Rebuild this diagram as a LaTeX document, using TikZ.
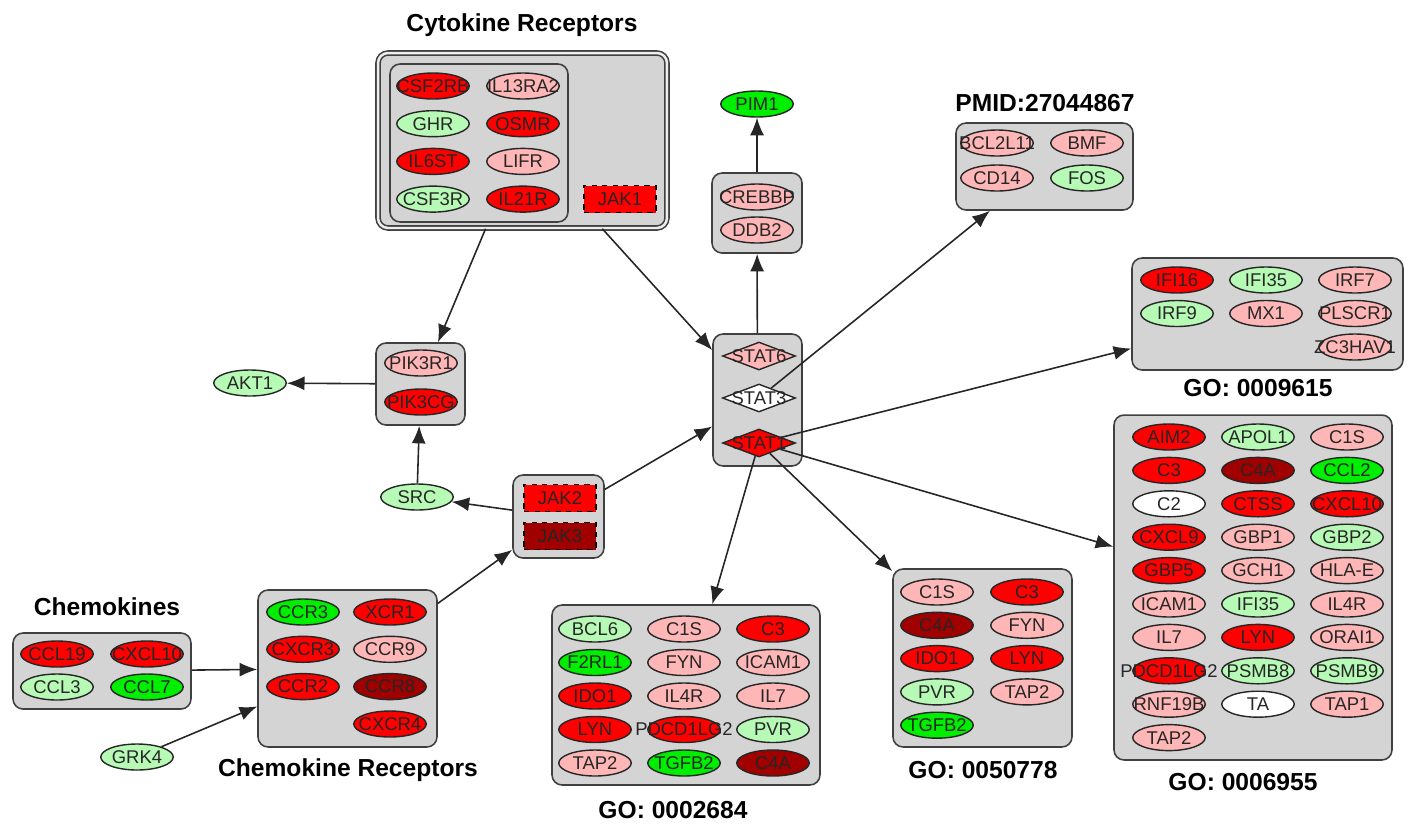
\documentclass[tikz,border=0pt]{standalone}
\usepackage{fontspec}
\setmainfont{Liberation Sans}
\usetikzlibrary{shapes.geometric,arrows.meta}
\definecolor{gred}{RGB}{255,0,0}
\definecolor{gpink}{RGB}{255,182,182}
\definecolor{gdark}{RGB}{160,0,0}
\definecolor{glgreen}{RGB}{182,250,182}
\definecolor{ggreen}{RGB}{0,238,0}
\definecolor{gbox}{RGB}{212,212,212}
\tikzset{
  grp/.style={draw=black!75,fill=gbox,rounded corners=0.2cm,line width=0.9pt,inner sep=0pt},
  gene/.style={ellipse,draw=black!85,line width=0.8pt,minimum width=1.45cm,minimum height=0.52cm,
    inner xsep=-14pt,inner ysep=0pt,text=black!85,font=\fontsize{10.5}{12}\selectfont},
  kin/.style={rectangle,draw=black,dashed,line width=0.8pt,minimum width=1.44cm,minimum height=0.54cm,
    inner sep=0pt,text=black!85,font=\fontsize{10.5}{12}\selectfont},
  stat/.style={diamond,aspect=2.6,draw=black!85,line width=0.8pt,minimum width=1.46cm,minimum height=0.56cm,
    inner xsep=-14pt,inner ysep=0pt,text=black!85,font=\fontsize{10.5}{12}\selectfont},
  ttl/.style={font=\bfseries\fontsize{14}{16}\selectfont},
  link/.style={-{Latex[length=10pt,width=8pt]},line width=0.9pt,draw=black!85}
}
\begin{document}
\begin{tikzpicture}[x=0.02cm,y=-0.02cm]
\useasboundingbox (0,0) rectangle (1418,836);
% cytokine receptors
\node[ttl] (cyttl) at (522,25) {Cytokine Receptors};
\node[grp,double=gbox!40!white,double distance=1.4pt,minimum width=5.78cm,minimum height=3.5cm] (cytbox) at (522.5,140.5) {};
\node[grp,minimum width=3.56cm,minimum height=3.16cm] (cytin) at (479,143) {};
\foreach \g/\c [count=\i from 0] in {CSF2RB/gred,IL13RA2/gpink,GHR/glgreen,OSMR/gred,IL6ST/gred,LIFR/gpink,CSF3R/glgreen,IL21R/gred}
  \node[gene,fill=\c] (cy\i) at ({433+90*mod(\i,2)},{86+37.7*int(\i/2)}) {\g};
\node[kin,fill=gred] (jak1) at (620,199) {JAK1};
% top middle
\node[gene,fill=ggreen] (pim1) at (757,104) {PIM1};
\node[grp,minimum width=1.8cm,minimum height=1.6cm] (crebox) at (757,213) {};
\node[gene,fill=gpink] (crebbp) at (757,197) {CREBBP};
\node[gene,fill=gpink] (ddb2) at (757,230) {DDB2};
\node[grp,minimum width=1.78cm,minimum height=2.64cm] (statbox) at (757.5,400) {};
\node[stat,fill=gpink] (stat6) at (759,356) {STAT6};
\node[stat,fill=white] (stat3) at (759,398) {STAT3};
\node[stat,fill=gred] (stat1) at (759,443) {STAT1};
% PMID
\node[ttl] (pmidttl) at (1045,103) {PMID:27044867};
\node[grp,minimum width=3.54cm,minimum height=1.74cm] (pmidbox) at (1044.5,166.5) {};
\foreach \g/\c [count=\i from 0] in {BCL2L11/gpink,BMF/gpink,CD14/gpink,FOS/glgreen}
  \node[gene,fill=\c] (pm\i) at ({997+90*mod(\i,2)},{143+35*int(\i/2)}) {\g};
% GO: 0009615
\node[grp,minimum width=5.42cm,minimum height=2.24cm] (virbox) at (1267.5,314) {};
\foreach \g/\c [count=\i from 0] in {IFI16/gred,IFI35/glgreen,IRF7/gpink,IRF9/glgreen,MX1/gpink,PLSCR1/gpink}
  \node[gene,fill=\c] (vi\i) at ({1177+89*mod(\i,3)},{280+33.5*int(\i/3)}) {\g};
\node[gene,fill=gpink] (zc3hav1) at (1355,347) {ZC3HAV1};
\node[ttl] (virttl) at (1258,388) {GO: 0009615};
% GO: 0006955
\node[grp,minimum width=5.56cm,minimum height=6.9cm] (imbox) at (1253,587.5) {};
\foreach \g/\c [count=\i from 0] in {AIM2/gred,APOL1/glgreen,C1S/gpink,C3/gred,C4A/gdark,CCL2/ggreen,
    C2/white,CTSS/gred,CXCL10/gred,CXCL9/gred,GBP1/gpink,GBP2/glgreen,GBP5/gred,GCH1/gpink,HLA-E/gpink,
    ICAM1/gpink,IFI35/glgreen,IL4R/gpink,IL7/gpink,LYN/gred,ORAI1/gpink,PDCD1LG2/gred,PSMB8/glgreen,
    PSMB9/glgreen,RNF19B/gpink,TA/white,TAP1/gpink,TAP2/gpink}
  \node[gene,fill=\c] (im\i) at ({1169+89*mod(\i,3)},{437+33.4*int(\i/3)}) {\g};
\node[ttl] (imttl) at (1243,782) {GO: 0006955};
% GO: 0050778
\node[grp,minimum width=3.58cm,minimum height=3.56cm] (posbox) at (982.5,658) {};
\foreach \g/\c [count=\i from 0] in {C1S/gpink,C3/gred,C4A/gdark,FYN/gpink,IDO1/gred,LYN/gred,PVR/glgreen,TAP2/gpink,TGFB2/ggreen}
  \node[gene,fill=\c] (po\i) at ({937+90*mod(\i,2)},{592+33.3*int(\i/2)}) {\g};
\node[ttl] (posttl) at (983,770) {GO: 0050778};
% GO: 0002684
\node[grp,minimum width=5.36cm,minimum height=3.6cm] (actbox) at (686,695) {};
\foreach \g/\c [count=\i from 0] in {BCL6/glgreen,C1S/gpink,C3/gred,F2RL1/ggreen,FYN/gpink,ICAM1/gpink,
    IDO1/gred,IL4R/gpink,IL7/gpink,LYN/gred,PDCD1LG2/gred,PVR/glgreen,TAP2/gpink,TGFB2/ggreen,C4A/gdark}
  \node[gene,fill=\c] (ac\i) at ({595+89*mod(\i,3)},{629+33.5*int(\i/3)}) {\g};
\node[ttl] (actttl) at (673,810) {GO: 0002684};
% chemokines
\node[ttl] (chttl) at (107,607) {Chemokines};
\node[grp,minimum width=3.56cm,minimum height=1.52cm] (chbox) at (102,671) {};
\foreach \g/\c [count=\i from 0] in {CCL19/gred,CXCL10/gred,CCL3/glgreen,CCL7/ggreen}
  \node[gene,fill=\c] (ch\i) at ({57+90*mod(\i,2)},{654+33*int(\i/2)}) {\g};
\node[grp,minimum width=3.58cm,minimum height=3.14cm] (chrbox) at (347.5,668.5) {};
\foreach \g/\c [count=\i from 0] in {CCR3/ggreen,XCR1/gred,CXCR3/gred,CCR9/gpink,CCR2/gred,CCR8/gdark}
  \node[gene,fill=\c] (cr\i) at ({303+87*mod(\i,2)},{612+37.3*int(\i/2)}) {\g};
\node[gene,fill=gred] (cxcr4) at (390,724) {CXCR4};
\node[ttl] (chrttl) at (348,770) {Chemokine Receptors};
\node[gene,fill=glgreen] (grk4) at (137,757) {GRK4};
% left middle
\node[grp,minimum width=1.78cm,minimum height=1.64cm] (pikbox) at (420.5,384) {};
\node[gene,fill=gpink] (pik3r1) at (421,363) {PIK3R1};
\node[gene,fill=gred] (pik3cg) at (421,402) {PIK3CG};
\node[gene,fill=glgreen] (akt1) at (250,383) {AKT1};
\node[gene,fill=glgreen] (src) at (417,497) {SRC};
\node[grp,minimum width=1.82cm,minimum height=1.66cm] (jakbox) at (558.5,516.5) {};
\node[kin,fill=gred] (jak2) at (560,498) {JAK2};
\node[kin,fill=gdark] (jak3) at (560,536) {JAK3};
% links
\draw[link] (cytbox)--(pikbox);
\draw[link] (cytbox)--(statbox);
\draw[link] (pikbox)--(akt1);
\draw[link] (src)--(pikbox);
\draw[link] (jakbox)--(src);
\draw[link] (jakbox)--(statbox);
\draw[link] (chrbox)--(jakbox);
\draw[link] (chbox)--(chrbox);
\draw[link] (grk4)--(chrbox);
\draw[link] (statbox)--(crebox);
\draw[link] (crebox)--(pim1);
\draw[link] (stat3)--(pmidbox);
\draw[link] (stat1)--(virbox);
\draw[link] (stat1)--(imbox);
\draw[link] (stat1)--(posbox);
\draw[link] (stat1)--(actbox);
\end{tikzpicture}
\end{document}
